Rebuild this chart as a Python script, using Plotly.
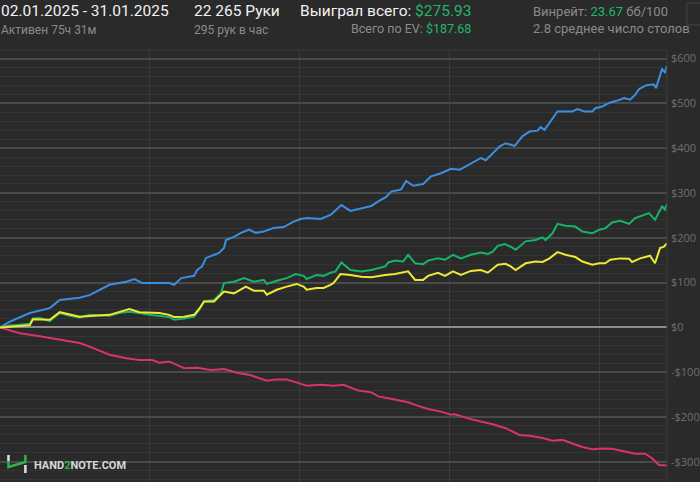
import plotly.graph_objects as go

# ---------------- data (hands played -> cumulative $) ----------------
sd_hands = [0,332,997,1662,1994,2658,2991,3556,3655,4220,4486,4752,5317,5649,5815,6048,6480,6580,6746,6879,
            7311,7477,7543,7809,8042,8308,8540,8806,9138,9471,9803,10035,10235,10700,11032,11398,11697,12062,12395,12627,
            12893,13059,13392,13558,13790,14123,14389,14721,15053,15352,15718,16050,16216,16515,16681,16881,17180,17446,17678,17944,
            18044,18177,18376,18609,19107,19273,19506,19772,19872,20104,20370,20603,20835,21034,21201,21334,21600,21832,21899,21998,
            22098,22198,22265]
sd_vals = [0,13,32,43,61,66,72,91,95,102,108,99,100,99,95,110,115,128,136,155,
           166,177,195,202,211,218,211,214,222,224,236,242,244,242,251,273,260,266,271,281,
           291,303,308,327,316,320,337,344,354,352,365,378,373,392,404,411,405,427,437,439,
           447,441,459,482,482,487,482,482,489,493,502,506,512,508,519,532,541,542,534,556,
           576,569,584]

nsd_hands = [0,665,1329,1994,2658,2991,3323,3655,4220,4652,5084,5317,5649,6148,6580,7045,7477,7909,8374,8906,
             9238,9570,9803,10235,10700,11132,11464,11963,12395,12627,12960,13624,13857,14289,14721,15053,15186,15618,16050,16449,
             16881,17346,17678,18110,18443,18775,19107,19440,19772,20104,20436,20868,21201,21533,21766,21998,22265]
nsd_vals = [0,-13,-20,-28,-35,-43,-52,-61,-69,-73,-73,-79,-76,-91,-90,-95,-93,-101,-107,-119,
            -116,-116,-121,-130,-128,-130,-128,-141,-145,-154,-158,-167,-173,-182,-188,-195,-194,-203,-210,-216,
            -225,-240,-242,-247,-253,-251,-259,-267,-272,-270,-271,-277,-282,-282,-292,-307,-308]

net_hands = [0,332,665,997,1097,1329,1662,1994,2326,2658,2991,3655,3988,4320,4652,4985,5649,5815,6148,6480,
             6646,6812,7144,7377,7477,7809,8141,8474,8806,8906,9238,9570,9869,10135,10235,10567,10800,11032,11199,11398,
             11697,12062,12395,12860,12960,13192,13458,13624,13857,14123,14289,14621,14854,15120,15385,15718,16050,16283,16449,16615,
             16848,17047,17213,17545,17878,18110,18210,18443,18609,18875,19207,19440,19772,20004,20204,20436,20702,21001,21201,21433,
             21666,21865,22031,22098,22198,22265]
net_vals = [0,4,6,8,20,21,14,32,26,22,28,26,32,35,32,28,23,17,20,24,
            39,58,61,76,99,102,110,102,106,97,104,110,119,115,108,117,115,122,125,145,
            128,125,128,136,145,149,147,162,143,141,149,154,151,162,154,162,167,164,169,182,
            186,180,173,192,195,201,195,210,231,227,225,214,210,218,221,234,238,231,244,249,
            255,240,262,270,263,276]

ev_hands = [0,665,997,1097,1662,1994,2658,3655,4320,4652,5317,5649,5815,6148,6480,6646,6812,7144,7377,7477,
            7809,8208,8474,8806,8906,9238,9570,9903,10135,10235,10567,10800,11032,11132,11365,11697,12062,12395,12860,13192,
            13624,13857,14123,14289,14621,14854,15120,15385,15718,16050,16283,16449,16615,16881,17047,17213,17545,17878,18110,18343,
            18609,18875,19207,19440,19772,20004,20204,20370,20702,21001,21101,21367,21699,21865,22031,22164,22265]
ev_vals = [0,3,5,18,17,34,24,28,41,34,32,28,23,24,28,41,58,58,73,80,
           76,91,82,82,73,84,91,97,91,84,88,88,95,99,119,117,113,112,117,119,
           125,106,106,115,122,115,125,117,126,128,122,130,140,142,136,128,143,147,146,154,
           168,162,157,147,140,143,143,151,154,153,146,154,160,143,177,180,188]

total_hands = 22265
x_gridvals = [5000, 10000, 15000, 20000]
y_tickvals = [-300, -200, -100, 0, 100, 200, 300, 400, 500, 600]
y_ticktext = ["-$300", "-$200", "-$100", "$0", "$100", "$200", "$300", "$400", "$500", "$600"]

# ---------------- styling ----------------
BG = "#2a2a2a"
FONT = "Roboto"
GREEN_TXT = "#1fb86a"
GRAY_TXT = "#8a8a8a"

W, H = 700, 482
PL, PR, PT, PB = 0, 30, 50, 0
PW, PH = W - PL - PR, H - PT - PB


def px(x):
    return (x - PL) / PW


def py(y):
    return (H - PB - y) / PH


fig = go.Figure()
fig.add_trace(go.Scatter(x=sd_hands, y=sd_vals, mode="lines",
                         line=dict(color="#3a8fe0", width=2), hoverinfo="skip"))
fig.add_trace(go.Scatter(x=nsd_hands, y=nsd_vals, mode="lines",
                         line=dict(color="#d8336a", width=2), hoverinfo="skip"))
fig.add_trace(go.Scatter(x=net_hands, y=net_vals, mode="lines",
                         line=dict(color="#16b46a", width=2), hoverinfo="skip"))
fig.add_trace(go.Scatter(x=ev_hands, y=ev_vals, mode="lines",
                         line=dict(color="#f0e832", width=2), hoverinfo="skip"))

annotations = [
    dict(x=px(-1), y=py(11), text="02.01.2025 - 31.01.2025",
         font=dict(size=15.5, color="#f2f2f2", family=FONT), xanchor="left"),
    dict(x=px(-1), y=py(30), text="Активен 75ч 31м",
         font=dict(size=12, color=GRAY_TXT, family=FONT), xanchor="left"),
    dict(x=px(193), y=py(11), text="22 265 Руки",
         font=dict(size=15.5, color="#f2f2f2", family=FONT), xanchor="left"),
    dict(x=px(193), y=py(30), text="295 рук в час",
         font=dict(size=12, color=GRAY_TXT, family=FONT), xanchor="left"),
    dict(x=px(475), y=py(11), text="Выиграл всего: <span style='color:%s'>$275.93</span>" % GREEN_TXT,
         font=dict(size=15.5, color="#f2f2f2", family=FONT), xanchor="right"),
    dict(x=px(475), y=py(28), text="Всего по EV: <span style='color:%s'>$187.68</span>" % GREEN_TXT,
         font=dict(size=12.5, color=GRAY_TXT, family=FONT), xanchor="right"),
    dict(x=px(533), y=py(11), text="Винрейт: <span style='color:%s'>23.67</span> бб/100" % GREEN_TXT,
         font=dict(size=13, color=GRAY_TXT, family=FONT), xanchor="left"),
    dict(x=px(533), y=py(28), text="2.8 среднее число столов",
         font=dict(size=13, color=GRAY_TXT, family=FONT), xanchor="left"),
    dict(x=px(32), y=py(465), text="HAND<span style='color:#2fb34a'>2</span>NOTE.COM",
         font=dict(size=11, color="#d8d8d8", family=FONT, weight="bold"), xanchor="left"),
]
for a in annotations:
    a.update(xref="paper", yref="paper", showarrow=False, yanchor="middle")

shapes = [
    # top border of plot area
    dict(type="line", xref="paper", yref="paper", x0=px(0), x1=px(670), y0=1, y1=1,
         line=dict(color="#3a3a3a", width=1)),
    # right border
    dict(type="line", xref="paper", yref="paper", x0=1, x1=1, y0=0, y1=1,
         line=dict(color="#3c3c3c", width=1)),
    # settings button outline (top right)
    dict(type="rect", xref="paper", yref="paper", x0=px(690), x1=px(712), y0=py(25), y1=py(3),
         line=dict(color="#444444", width=1), fillcolor=BG),
    # logo glyph
    dict(type="line", xref="paper", yref="paper", x0=px(8.5), x1=px(8.5), y0=py(455), y1=py(461),
         line=dict(color="#e0e0e0", width=2.5)),
    dict(type="path", xref="paper", yref="paper",
         path="M %f,%f L %f,%f L %f,%f L %f,%f" % (px(8.5), py(461), px(8.5), py(467),
                                                 px(25.5), py(462), px(25.5), py(455)),
         line=dict(color="#2fb34a", width=2.5)),
    dict(type="line", xref="paper", yref="paper", x0=px(25.5), x1=px(25.5), y0=py(465), y1=py(473),
         line=dict(color="#e0e0e0", width=2.5)),
]

fig.update_layout(
    width=W, height=H,
    margin=dict(l=PL, r=PR, t=PT, b=PB, pad=0),
    paper_bgcolor=BG, plot_bgcolor=BG,
    showlegend=False,
    annotations=annotations,
    shapes=shapes,
    xaxis=dict(range=[0, total_hands], tickmode="array", tickvals=x_gridvals,
               showticklabels=False, showgrid=True, gridcolor="#3a3a3a", gridwidth=1,
               zeroline=False, showline=False, ticks="", fixedrange=True),
    yaxis=dict(range=[-345, 619], side="right", tickmode="array",
               tickvals=y_tickvals, ticktext=y_ticktext,
               tickfont=dict(family="Open Sans", size=11, color="#707070"),
               showgrid=True, gridcolor="#4a4a4a", gridwidth=1.5,
               zeroline=True, zerolinecolor="#8c8c8c", zerolinewidth=2,
               showline=False, ticks="", ticklabelstandoff=3,
               minor=dict(tickmode="linear", tick0=0, dtick=20, showgrid=True,
                          gridcolor="#343434", gridwidth=1, ticks=""),
               fixedrange=True),
)

fig.write_html("out.html", config={"displayModeBar": False},
               post_script="document.body.style.margin='0'; document.body.style.background='#2a2a2a';")
